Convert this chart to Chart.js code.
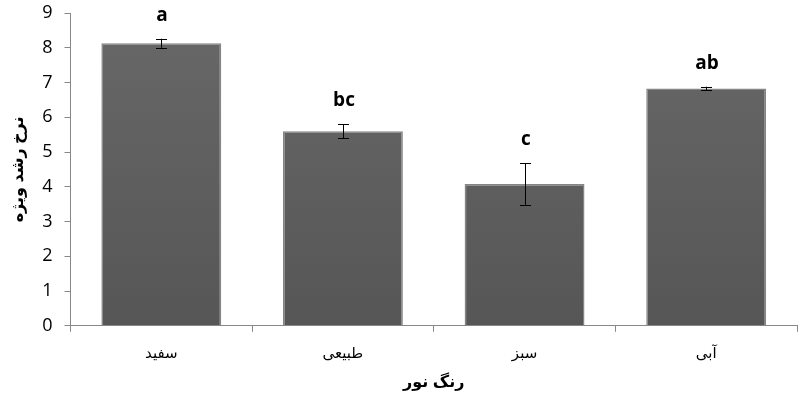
<!DOCTYPE html>
<html>
<head>
<meta charset="utf-8">
<script src="https://cdn.jsdelivr.net/npm/chart.js@4/dist/chart.umd.min.js"></script>
<style>
  html, body { margin: 0; padding: 0; background: #fff; }
  #wrap { width: 807px; height: 401px; }
</style>
</head>
<body>
<div id="wrap"><canvas id="chartTauxCroissance" width="807" height="401"></canvas></div>
<script>
const categories = ["سفید", "طبیعی", "سبز", "آبی"]
const valeurs = [8.13, 5.60, 4.08, 6.83]
const erreurs = [0.13, 0.20, 0.60, 0.05]
const lettres = ["a", "bc", "c", "ab"]
const yTicks = [0, 1, 2, 3, 4, 5, 6, 7, 8, 9]

// barres d'erreur + lettres de signification
const errorBarsPlugin = {
    id: 'errorBars',
    afterDatasetsDraw(chart) {
        const ctx = chart.ctx
        const yScale = chart.scales.y
        const meta = chart.getDatasetMeta(0)
        ctx.save()
        meta.data.forEach((bar, i) => {
            const x = Math.round(bar.x)
            const yHaut = yScale.getPixelForValue(valeurs[i] + erreurs[i])
            const yBas = yScale.getPixelForValue(valeurs[i] - erreurs[i])
            ctx.strokeStyle = '#000'
            ctx.lineWidth = 1
            ctx.beginPath()
            ctx.moveTo(x + 0.5, yHaut)
            ctx.lineTo(x + 0.5, yBas)
            ctx.moveTo(x - 5, Math.round(yHaut) + 0.5)
            ctx.lineTo(x + 6, Math.round(yHaut) + 0.5)
            ctx.moveTo(x - 5, Math.round(yBas) + 0.5)
            ctx.lineTo(x + 6, Math.round(yBas) + 0.5)
            ctx.stroke()

            ctx.fillStyle = '#000'
            ctx.font = 'bold 19px "Open Sans", "Liberation Sans", sans-serif'
            ctx.textAlign = 'center'
            ctx.textBaseline = 'bottom'
            ctx.fillText(lettres[i], x + 1, yHaut - 14)
        })
        ctx.restore()
    }
}

const data = {
    labels: categories,
    datasets: [
        {
            data: valeurs,
            backgroundColor: function(context) {
                const area = context.chart.chartArea
                if (!area) return '#5e5e5e'
                const g = context.chart.ctx.createLinearGradient(0, area.top, 0, area.bottom)
                g.addColorStop(0, '#686868')
                g.addColorStop(1, '#565656')
                return g
            },
            borderColor: '#858585',
            borderWidth: 1.5,
            categoryPercentage: 0.66,
            barPercentage: 1.0
        }
    ]
}

const config = {
    type: 'bar',
    data: data,
    options: {
        responsive: false,
        animation: false,
        layout: {
            padding: { top: 0, right: 10, left: 9, bottom: 0 }
        },
        plugins: {
            legend: { display: false },
            tooltip: { enabled: false }
        },
        scales: {
            x: {
                border: { color: '#888', width: 1 },
                grid: { display: true, drawOnChartArea: false, drawTicks: true, tickLength: 6, color: '#888' },
                ticks: {
                    color: '#000',
                    font: { family: '"Liberation Sans", "DejaVu Sans", sans-serif', size: 15 },
                    padding: 13
                },
                title: {
                    display: true,
                    text: 'رنگ نور',
                    color: '#000',
                    font: { family: '"Liberation Sans", "DejaVu Sans", sans-serif', size: 16, weight: 'bold' },
                    padding: { top: -3, bottom: 9 }
                }
            },
            y: {
                min: 0,
                max: 9,
                afterBuildTicks: function(axis) {
                    axis.ticks = yTicks.map(v => ({ value: v }))
                },
                afterFit: function(axis) {
                    // le padding des ticks ne doit pas pousser le haut du graphique
                    axis.paddingTop = 13
                },
                border: { color: '#888', width: 1 },
                grid: { display: true, drawOnChartArea: false, drawTicks: true, tickLength: 6, color: '#888' },
                ticks: {
                    color: '#000',
                    font: { family: '"Open Sans", "Liberation Sans", sans-serif', size: 18 },
                    padding: 12
                },
                title: {
                    display: true,
                    text: 'نرخ رشد ویژه',
                    color: '#000',
                    font: { family: '"Liberation Sans", "DejaVu Sans", sans-serif', size: 16, weight: 'bold' },
                    padding: { top: 0, bottom: 2 }
                }
            }
        }
    },
    plugins: [errorBarsPlugin]
}

const monGraphique = new Chart(
    document.getElementById('chartTauxCroissance'),
    config
)
</script>
</body>
</html>
